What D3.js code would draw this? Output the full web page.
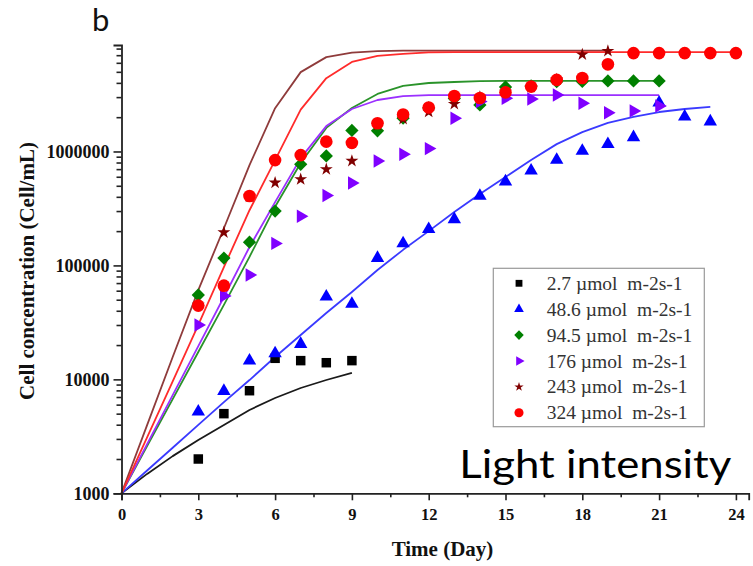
<!DOCTYPE html>
<html>
<head>
<meta charset="utf-8">
<script src="https://cdn.jsdelivr.net/npm/d3@7"></script>
<style>
  html, body { margin: 0; padding: 0; background: #fff; }
  svg { display: block; }
</style>
</head>
<body>
<svg id="chart" width="753" height="566"></svg>
<script>
// Light intensity levels (legend labels)
const lightLabels = [
  "2.7 µmol  m-2s-1",
  "48.6 µmol  m-2s-1",
  "94.5 µmol  m-2s-1",
  "176 µmol  m-2s-1",
  "243 µmol  m-2s-1",
  "324 µmol  m-2s-1"
];

// Axis ticks
const xTicks = [0, 3, 6, 9, 12, 15, 18, 21, 24];
const yTicks = [1000, 10000, 100000, 1000000];

// Measured cell concentrations (Cell/mL) by day
const obsDays27 = [3, 4, 5, 6, 7, 8, 9];
const obs27 = [2000, 5000, 7950, 15300, 14600, 14000, 14600];

const obsDays486 = [3, 4, 5, 6, 7, 8, 9, 10, 11, 12, 13, 14, 15, 16, 17, 18, 19, 20, 21, 22, 23];
const obs486 = [5200, 7900, 14600, 16900, 20400, 53200, 45900, 116000, 156000, 208000, 254000,
  407000, 544000, 679000, 843000, 1010000, 1160000, 1330000, 2680000, 2020000, 1830000];

const obsDays945 = [3, 4, 5, 6, 7, 8, 9, 10, 11, 12, 13, 14, 15, 16, 17, 18, 19, 20, 21];
const obs945 = [55000, 116000, 160000, 300000, 772000, 914000, 1530000, 1520000, 1960000, 2410000,
  2920000, 2560000, 3680000, 3760000, 4100000, 4120000, 4160000, 4160000, 4160000];

const obsDays176 = [3, 4, 5, 6, 7, 8, 9, 10, 11, 12, 13, 14, 15, 16, 17, 18, 19, 20, 21];
const obs176 = [30000, 54000, 82500, 156000, 270000, 411000, 529000, 826000, 946000, 1060000,
  1960000, 2740000, 2930000, 2890000, 3130000, 2650000, 2190000, 2270000, 2510000];

const obsDays243 = [3, 4, 5, 6, 7, 8, 9, 10, 11, 12, 13, 14, 15, 16, 17, 18, 19];
const obs243 = [45000, 195000, 400000, 532000, 570000, 698000, 826000, 1710000, 1930000, 2230000,
  2610000, 3010000, 3330000, 3680000, 4280000, 7100000, 7620000];

const obsDays324 = [3, 4, 5, 6, 7, 8, 9, 10, 11, 12, 13, 14, 15, 16, 17, 18, 19, 20, 21, 22, 23, 24];
const obs324 = [44400, 66400, 407000, 840000, 929000, 1220000, 1190000, 1770000, 2110000, 2430000,
  3070000, 2950000, 3300000, 3710000, 4250000, 4420000, 5820000, 7300000, 7300000, 7300000, 7300000, 7300000];

// Model curves (Cell/mL), one value per day starting at day 0
const fit27 = [1000, 1480, 2120, 2940, 3980, 5390, 6860, 8400, 9870, 11400];
const fit486 = [1000, 1585, 2510, 3980, 6320, 9860, 15700, 24500, 38200, 58500, 91200, 137000,
  200000, 294000, 424000, 597000, 842000, 1160000, 1480000, 1780000, 2010000, 2220000, 2360000, 2460000];
const fit945 = [1000, 2600, 6700, 17400, 45000, 119000, 327000, 793000, 1610000, 2410000, 3200000,
  3760000, 3990000, 4070000, 4140000, 4160000, 4170000, 4170000, 4170000, 4170000, 4170000, 4170000];
const fit176 = [1000, 2700, 7280, 19600, 52800, 145000, 359000, 875000, 1670000, 2360000, 2830000,
  3060000, 3120000, 3120000, 3120000, 3120000, 3120000, 3120000, 3120000, 3120000, 3120000, 3120000];
const fit243 = [1000, 3970, 15700, 60700, 212000, 759000, 2400000, 4970000, 6730000, 7370000, 7600000,
  7670000, 7670000, 7670000, 7670000, 7670000, 7670000, 7670000, 7670000, 7670000];
const fit324 = [1000, 3100, 9600, 30000, 96600, 305000, 840000, 2330000, 4400000, 6100000, 6900000,
  7200000, 7400000, 7450000, 7450000, 7450000, 7450000, 7450000, 7450000, 7450000, 7450000, 7450000,
  7450000, 7450000, 7450000];

const seriesObs = [
  { days: obsDays27, vals: obs27 },
  { days: obsDays486, vals: obs486 },
  { days: obsDays945, vals: obs945 },
  { days: obsDays176, vals: obs176 },
  { days: obsDays243, vals: obs243 },
  { days: obsDays324, vals: obs324 }
];
const seriesFit = [fit27, fit486, fit945, fit176, fit243, fit324];

const markerColors = ["#000000", "#0000ff", "#008000", "#8000ff", "#800000", "#ff0000"];
const lineColors = ["#1a1a1a", "#3a3aff", "#2a932a", "#9b30ff", "#8f3b3b", "#ff2b2b"];

const svg = d3.select("#chart");
svg.append("rect").attr("width", 753).attr("height", 566).attr("fill", "#fff");

const x = d3.scaleLinear().domain([0, 24.5]).range([121.5, 748.7]);
const y = d3.scaleLog().domain([1000, 8.6e6]).range([493.3, 45]);

const serif = "'Liberation Serif', 'Times New Roman', serif";

// Model lines
const line = d3.line().x((d, i) => x(i)).y(d => y(d));
seriesFit.forEach((vals, k) => {
  svg.append("path")
    .attr("d", line(vals))
    .attr("fill", "none")
    .attr("stroke", lineColors[k])
    .attr("stroke-width", 1.8)
    .attr("stroke-linejoin", "round");
});

// Marker shapes
function markerPath(k, scale) {
  const s = scale || 1;
  switch (k) {
    case 0: return { d: d3.symbol(d3.symbolSquare, 90 * s * s)(), rot: 0 };
    case 1: return { d: d3.symbol(d3.symbolTriangle, 78 * s * s)(), rot: 0 };
    case 2: return { d: d3.symbol(d3.symbolSquare, 88 * s * s)(), rot: 45 };
    case 3: return { d: d3.symbol(d3.symbolTriangle, 78 * s * s)(), rot: 90 };
    case 4: return { d: d3.symbol(d3.symbolStar, 52 * s * s)(), rot: 0 };
    default: return { d: d3.symbol(d3.symbolCircle, 125 * s * s)(), rot: 0 };
  }
}

seriesObs.forEach((ser, k) => {
  const m = markerPath(k);
  svg.append("g")
    .selectAll("path")
    .data(ser.vals.map((v, i) => [ser.days[i], v]))
    .join("path")
    .attr("d", m.d)
    .attr("transform", d => `translate(${x(d[0])},${y(d[1])}) rotate(${m.rot})`)
    .attr("fill", markerColors[k]);
});

// Axes
const yAxis = svg.append("g").attr("transform", "translate(121.5,0)")
  .call(d3.axisLeft(y).tickValues(yTicks).tickFormat(d3.format("d")).tickSize(8).tickPadding(4));
const yMinor = [];
[1000, 10000, 100000, 1000000].forEach(base => {
  for (let m = 2; m <= 9; m++) { if (base * m <= 8.6e6) yMinor.push(base * m); }
});
svg.append("g").attr("transform", "translate(121.5,0)")
  .call(d3.axisLeft(y).tickValues(yMinor).tickFormat("").tickSize(5))
  .select(".domain").remove();

const xAxis = svg.append("g").attr("transform", "translate(0,493.3)")
  .call(d3.axisBottom(x).tickValues(xTicks).tickFormat(d3.format("d")).tickSize(7).tickPadding(8));
const xMinor = d3.range(1.5, 24, 3);
svg.append("g").attr("transform", "translate(0,493.3)")
  .call(d3.axisBottom(x).tickValues(xMinor).tickFormat("").tickSize(4))
  .select(".domain").remove();

svg.selectAll(".domain").attr("stroke", "#222").attr("stroke-width", 1.8);
svg.selectAll(".tick line").attr("stroke", "#222").attr("stroke-width", 1.6);
yAxis.selectAll("text").attr("font-family", serif).attr("font-weight", "bold")
  .attr("font-size", 18).attr("fill", "#111");
xAxis.selectAll("text").attr("font-family", serif).attr("font-weight", "bold")
  .attr("font-size", 16.5).attr("fill", "#111");

// Axis titles
svg.append("text")
  .attr("transform", "translate(33.5,271) rotate(-90)")
  .attr("text-anchor", "middle")
  .attr("font-family", serif).attr("font-weight", "bold").attr("font-size", 21)
  .attr("fill", "#111")
  .text("Cell concentration (Cell/mL)");

svg.append("text")
  .attr("x", 442.5).attr("y", 556)
  .attr("text-anchor", "middle")
  .attr("font-family", serif).attr("font-weight", "bold").attr("font-size", 21)
  .attr("fill", "#111")
  .text("Time (Day)");

// Panel letter
svg.append("text")
  .attr("x", 92).attr("y", 31)
  .attr("font-family", "Lato, 'Open Sans', sans-serif").attr("font-size", 31)
  .attr("fill", "#111")
  .text("b");

// Legend
const legend = svg.append("g");
legend.append("rect")
  .attr("x", 493.3).attr("y", 268.3).attr("width", 211).attr("height", 158.4)
  .attr("fill", "#fff").attr("stroke", "#9a9a9a").attr("stroke-width", 1.2);
lightLabels.forEach((lab, k) => {
  const cy = 283.3 + k * 25.9;
  const m = markerPath(k, 0.72);
  legend.append("path")
    .attr("d", m.d)
    .attr("transform", `translate(519,${cy}) rotate(${m.rot})`)
    .attr("fill", markerColors[k]);
  legend.append("text")
    .attr("x", 546.7).attr("y", cy + 6.5)
    .attr("font-family", serif).attr("font-size", 19.5)
    .attr("fill", "#333")
    .attr("xml:space", "preserve")
    .style("white-space", "pre")
    .text(lab);
});

// Annotation
svg.append("text")
  .attr("x", 459.3).attr("y", 477.7)
  .attr("font-family", "Lato, 'Open Sans', sans-serif").attr("font-size", 39)
  .attr("fill", "#000")
  .attr("textLength", 272).attr("lengthAdjust", "spacingAndGlyphs")
  .text("Light intensity");
</script>
</body>
</html>
